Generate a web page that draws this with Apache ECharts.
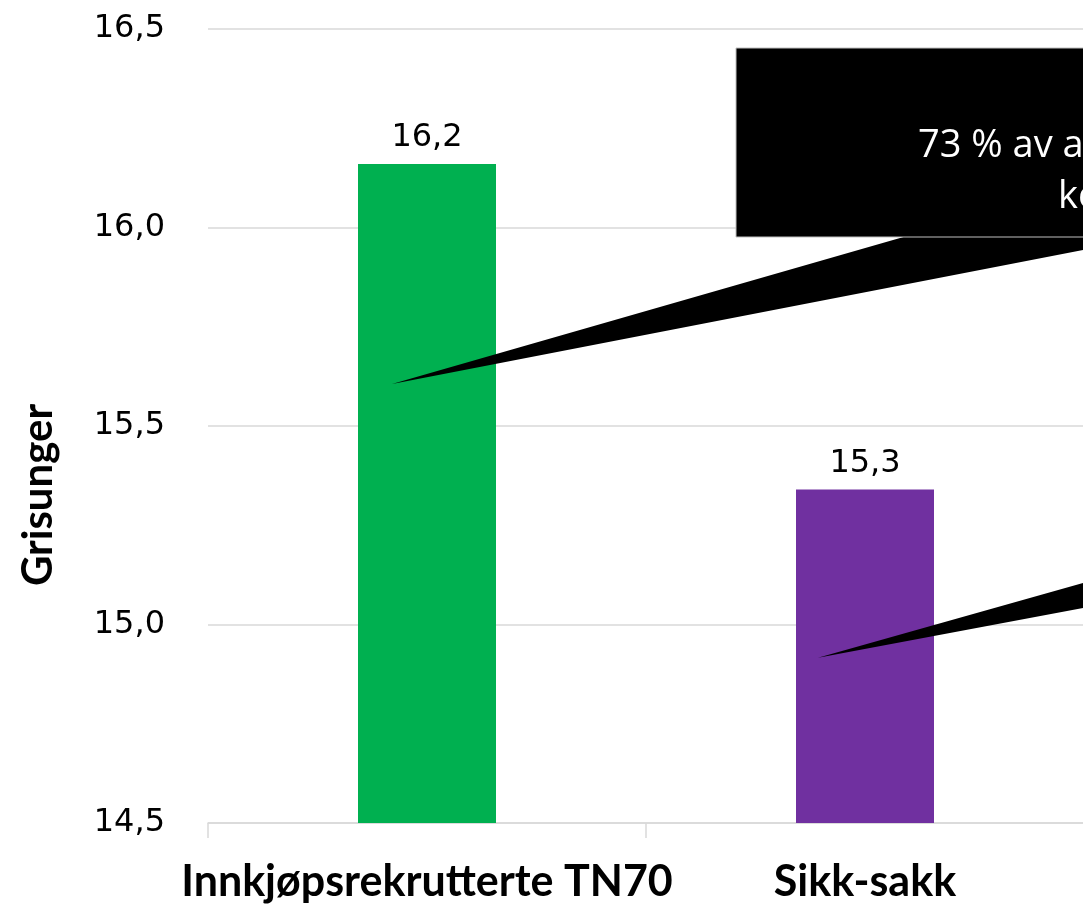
<!DOCTYPE html>
<html><head><meta charset="utf-8">
<script src="https://cdn.jsdelivr.net/npm/echarts@6/dist/echarts.min.js"></script>
<style>html,body{margin:0;padding:0;overflow:hidden;background:#fff;width:1083px;height:907px}#c{width:1600px;height:907px}</style>
</head><body><div id="c"></div>
<script>
const categories = ['Innkjøpsrekrutterte TN70', 'Sikk-sakk', ''];
const values = [16.16, 15.34, null];
const barColors = ['#00b050', '#7030a0', '#999999'];
const yTicks = {min: 14.5, max: 16.5, interval: 0.5};
const yName = 'Grisunger';
const calloutLines = ['73 % av a', 'ko'];
// callout pointer tips in data coordinates [category index, value]
const tip1 = [0, 15.606];
const tip2 = [1, 14.916];

const chart = echarts.init(document.getElementById('c'));
const fmt = v => v.toFixed(1).replace('.', ',');
chart.setOption({
  animation: false,
  grid: {left: 208, top: 29, width: 1314, bottom: 84, containLabel: false},
  xAxis: {
    type: 'category', data: categories,
    axisLine: {lineStyle: {color: '#d9d9d9', width: 1.5}},
    axisTick: {show: true, length: 15, lineStyle: {color: '#d9d9d9', width: 1.5}},
    axisLabel: {interval: 0, color: '#000', fontFamily: 'Lato', fontWeight: 'bold', fontSize: 43, margin: 38}
  },
  yAxis: {
    type: 'value', min: yTicks.min, max: yTicks.max, interval: yTicks.interval,
    axisLine: {show: false}, axisTick: {show: false},
    axisLabel: {color: '#000', fontFamily: 'DejaVu Sans', fontSize: 32, margin: 43, formatter: fmt},
    splitLine: {lineStyle: {color: '#d9d9d9', width: 1.5}}
  },
  series: [{
    type: 'bar', barWidth: 138,
    data: values.map((v, i) => ({value: v, itemStyle: {color: barColors[i]}})),
    label: {show: true, position: 'top', distance: 10, color: '#000', fontFamily: 'DejaVu Sans', fontSize: 32,
      formatter: p => p.value == null ? '' : fmt(p.value)}
  }]
});

function px(pt, dx) {
  const p = chart.convertToPixel({gridIndex: 0}, pt);
  return [p[0] + dx, p[1]];
}
const t1 = px(tip1, -35);
const t2 = px(tip2, -47);
chart.setOption({
  graphic: [
    {type: 'text', x: 38, y: 495, rotation: Math.PI / 2,
      style: {text: yName, fill: '#000', fontFamily: 'Lato', fontWeight: 'bold', fontSize: 42, textAlign: 'center', textVerticalAlign: 'middle'}},
    {type: 'polygon', shape: {points: [[907, 236], [1200, 236], [1200, 228], [1083, 250], t1]}, style: {fill: '#000'}, z: 100},
    {type: 'rect', shape: {x: 736, y: 48, width: 600, height: 189}, style: {fill: '#000', stroke: '#bfbfbf', lineWidth: 1}, z: 101},
    {type: 'text', x: 918, y: 146, style: {text: calloutLines[0], fill: '#fff', fontFamily: 'Open Sans', fontSize: 38, textVerticalAlign: 'middle'}, z: 102},
    {type: 'text', x: 1058, y: 197, style: {text: calloutLines[1], fill: '#fff', fontFamily: 'Open Sans', fontSize: 38, textVerticalAlign: 'middle'}, z: 102},
    {type: 'polygon', shape: {points: [[1083, 583], [1200, 550], [1200, 595], [1083, 608], t2]}, style: {fill: '#000'}, z: 100}
  ]
});
</script></body></html>
